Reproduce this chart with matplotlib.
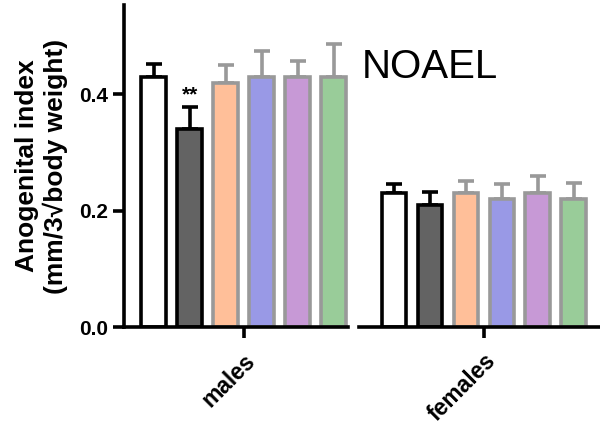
import matplotlib
matplotlib.use('Agg')
import matplotlib.pyplot as plt
import numpy as np

plt.rcParams['font.family'] = ['Liberation Sans', 'DejaVu Sans']

groups = ['males', 'females']
males_mean = [0.43, 0.34, 0.42, 0.43, 0.43, 0.43]
males_err = [0.022, 0.038, 0.030, 0.044, 0.027, 0.056]
females_mean = [0.23, 0.21, 0.23, 0.22, 0.23, 0.22]
females_err = [0.015, 0.022, 0.021, 0.025, 0.030, 0.028]
fill_colors = ['#FFFFFF', '#636363', '#FFBF99', '#9999E6', '#C799D6', '#99CC99']
edge_colors = ['#000000', '#000000', '#999999', '#999999', '#999999', '#999999']

group_gap = 6.67
offsets = np.arange(6) - 2.5

fig = plt.figure(figsize=(6, 4.26), dpi=100)
ax = fig.add_axes((0.207, 0.232, 0.793, 0.756))

lw = 2.6
for g, (means, errs) in enumerate([(males_mean, males_err), (females_mean, females_err)]):
    xs = g * group_gap + offsets
    for x, m, e, fc, ec in zip(xs, means, errs, fill_colors, edge_colors):
        ax.errorbar(x, m, yerr=[[0], [e]], fmt='none', ecolor=ec,
                    elinewidth=lw, capsize=5.5, capthick=lw, zorder=1)
        ax.bar(x, m, width=0.68, color=fc, edgecolor=ec, linewidth=lw, zorder=2)

# significance marker on the treated male bar
ax.text(offsets[1], males_mean[1] + males_err[1] + 0.004, '**',
        ha='center', va='bottom', fontsize=15, fontweight='bold')

ax.text(group_gap * 0.5 - 0.05, 0.446, 'NOAEL', fontsize=29, ha='left', va='center')

ax.set_xlim(-3.32, 9.9)
ax.set_ylim(0, 0.553)
ax.set_yticks([0.0, 0.2, 0.4])
ax.set_yticklabels(['0.0', '0.2', '0.4'], fontsize=15, fontweight='bold')
ax.set_xticks([0, group_gap])
ax.set_xticklabels(groups, rotation=45, ha='right', rotation_mode='anchor',
                   fontsize=16.5, fontweight='bold')
ax.tick_params(axis='both', width=lw, length=8)
ax.tick_params(axis='x', pad=8)

for side in ['top', 'right', 'bottom']:
    ax.spines[side].set_visible(False)
ax.spines['left'].set_linewidth(lw)

# broken baseline, one segment per group
ax.plot([-3.32, 2.9], [0, 0], color='black', lw=lw, clip_on=False, zorder=3)
ax.plot([3.2, 9.9], [0, 0], color='black', lw=lw, clip_on=False, zorder=3)

ax.set_ylabel('Anogenital index\n(mm/3\u221abody weight)', fontsize=19,
              fontweight='bold', labelpad=8)

fig.savefig('out.png', dpi=100)
